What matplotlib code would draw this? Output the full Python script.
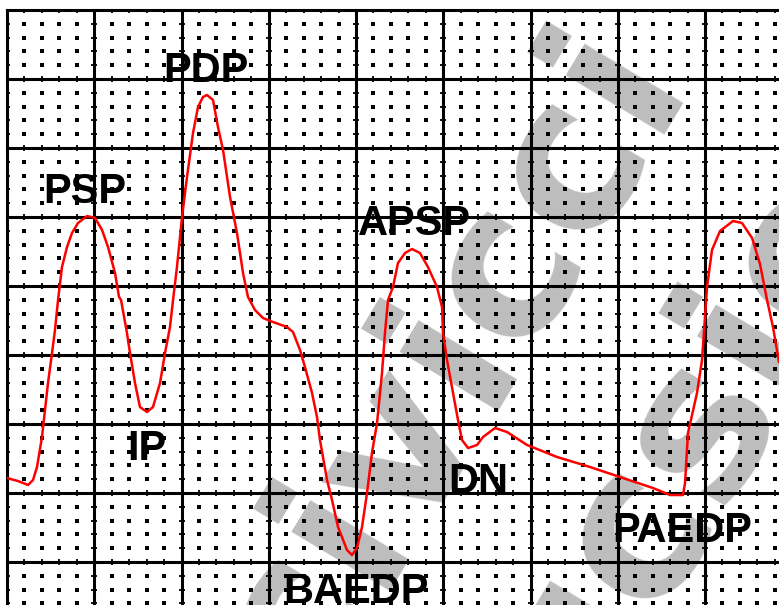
import numpy as np
import matplotlib.pyplot as plt

t = [0.0, 0.126, 0.241, 0.298, 0.344, 0.401, 0.470, 0.516, 0.550, 0.585,
     0.630, 0.688, 0.745, 0.814, 0.917, 1.009, 1.089, 1.158, 1.238, 1.284,
     1.307, 1.375, 1.410, 1.467, 1.524, 1.605, 1.673, 1.754, 1.811, 1.868,
     1.903, 1.948, 2.006, 2.063, 2.132, 2.189, 2.246, 2.292, 2.361, 2.418,
     2.476, 2.556, 2.636, 2.705, 2.762, 2.842, 2.934, 3.049, 3.209, 3.278,
     3.358, 3.415, 3.496, 3.553, 3.587, 3.668, 3.725, 3.794, 3.897, 3.954,
     4.011, 4.069, 4.126, 4.183, 4.241, 4.298, 4.332, 4.367, 4.424, 4.481,
     4.562, 4.642, 4.733, 4.825, 4.928, 4.986, 4.997, 5.043, 5.112, 5.169,
     5.215, 5.284, 5.387, 5.456, 5.593, 5.731, 5.960, 6.304, 6.682, 7.060,
     7.404, 7.599, 7.748, 7.771, 7.805, 7.908, 7.966, 8.000, 8.023, 8.080,
     8.172, 8.321, 8.424, 8.539, 8.630, 8.711, 8.779, 8.848]
p = [1.217, 1.174, 1.116, 1.188, 1.377, 1.812, 2.594, 3.029, 3.362, 3.797,
     4.275, 4.565, 4.768, 4.913, 5.014, 4.986, 4.812, 4.565, 4.188, 3.841,
     3.797, 3.319, 3.029, 2.594, 2.246, 2.174, 2.246, 2.594, 3.029, 3.406,
     3.797, 4.275, 5.000, 5.580, 6.217, 6.594, 6.739, 6.768, 6.696, 6.304,
     5.971, 5.290, 4.768, 4.188, 3.841, 3.652, 3.536, 3.478, 3.406, 3.333,
     3.072, 2.826, 2.449, 2.101, 1.768, 1.188, 0.899, 0.507, 0.174, 0.101,
     0.203, 0.507, 1.000, 1.580, 2.014, 2.739, 3.319, 3.797, 3.986, 4.333,
     4.478, 4.536, 4.478, 4.275, 3.986, 3.696, 3.319, 2.928, 2.449, 2.058,
     1.768, 1.652, 1.696, 1.812, 1.942, 1.884, 1.696, 1.522, 1.377, 1.217,
     1.072, 0.971, 0.971, 1.145, 1.870, 2.449, 2.928, 3.551, 3.986, 4.522,
     4.797, 4.942, 4.913, 4.696, 4.319, 3.797, 3.406, 2.899]

labels = ["PSP", "PDP", "IP", "BAEDP", "APSP", "DN", "PAEDP"]
label_x = [0.894, 2.281, 1.605, 4.000, 4.665, 5.398, 7.737]
label_y = [5.203, 6.957, 1.478, -0.594, 4.739, 1.000, 0.290]

fig = plt.figure(figsize=(7.79, 6.05), dpi=100)
ax = fig.add_axes([7 / 779, 0, 772 / 779, 595 / 605])
ax.set_xlim(0, 8.848)
ax.set_ylim(-0.623, 8.0)
ax.axis("off")

# watermark behind everything
wm = dict(rotation=59, rotation_mode="anchor", ha="center", va="center",
          fontsize=152, fontweight="bold", color="#bdbdbd",
          family="DejaVu Sans", zorder=0, clip_on=True)
ax.text(5.10, 2.90, "civicci", **wm)
ax.text(7.74, 1.70, "ucsie", **wm)

# paper grid: heavy lines every box, dots every fifth
for k in range(0, 9):
    ax.axvline(k, color="black", lw=2.2, zorder=1, clip_on=False)
for k in range(0, 9):
    ax.axhline(k, color="black", lw=2.2, zorder=1, clip_on=False)

minor = np.arange(-5, 46) / 5
mx, my = np.meshgrid(minor, minor)
inner = (np.abs(mx - np.round(mx)) > 0.01) & (np.abs(my - np.round(my)) > 0.01)
ax.plot(mx[inner], my[inner], "s", ms=2.2, color="black", mew=0, zorder=1)

on_h = (np.abs(my - np.round(my)) < 0.01) & (np.abs(mx - np.round(mx)) > 0.01)
ax.plot(mx[on_h], my[on_h], "|", ms=4, mew=1.3, color="black", zorder=1)
on_v = (np.abs(mx - np.round(mx)) < 0.01) & (np.abs(my - np.round(my)) > 0.01)
ax.plot(mx[on_v], my[on_v], "_", ms=4, mew=1.3, color="black", zorder=1)

ax.plot(t, p, color="#ff0000", lw=1.8, zorder=3)

for name, x, y in zip(labels, label_x, label_y):
    ax.text(x, y, name, ha="center", va="baseline", fontsize=30,
            fontweight="bold", family="Liberation Sans", color="black",
            zorder=4)

fig.savefig("out.png", dpi=100)
